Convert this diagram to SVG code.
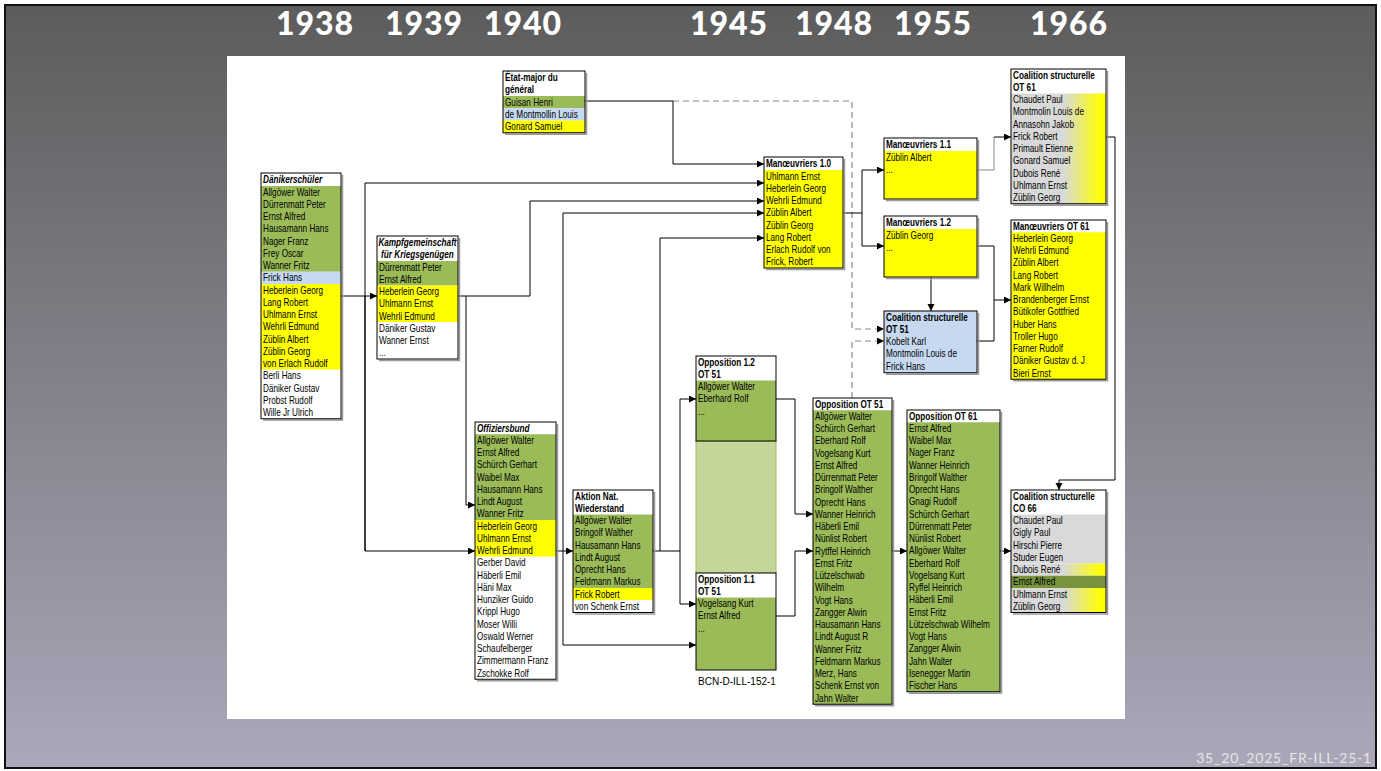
<svg xmlns="http://www.w3.org/2000/svg" width="1381" height="771" viewBox="0 0 1381 771">
<defs>
<linearGradient id="bg" x1="0" y1="0" x2="0" y2="1">
<stop offset="0" stop-color="#5c5c5c"/><stop offset="1" stop-color="#aaa8ba"/>
</linearGradient>
<linearGradient id="gy" x1="0" y1="0" x2="1" y2="0">
<stop offset="0" stop-color="#d9d9d9"/><stop offset="0.55" stop-color="#d9d9d9"/><stop offset="0.95" stop-color="#ffff00"/><stop offset="1" stop-color="#ffff00"/>
</linearGradient>
<marker id="ah" markerUnits="userSpaceOnUse" markerWidth="8" markerHeight="8" refX="7" refY="3.5" orient="auto">
<path d="M0,0 L7,3.5 L0,7 z" fill="#000"/>
</marker>
<style>
.t{font-family:"Liberation Sans",Arial,sans-serif;font-size:10px;fill:#000}
.b{font-weight:bold}
.bi{font-weight:bold;font-style:italic}
.g{fill:#9bbb59}.y{fill:#ffff00}.lb{fill:#c6d9f1}.w{fill:#fff}.gr{fill:#d9d9d9}.gy{fill:url(#gy)}.dg{fill:#77933c}.lg{fill:#c4d79b}
.bx{fill:none;stroke:#000;stroke-width:1}
.sh{fill:none;stroke:#9a9a9a;stroke-width:1.5}
.c{fill:none;stroke:#000;stroke-width:1}
.cg{fill:none;stroke:#8a8a8a;stroke-width:1}
.d{fill:none;stroke:#8a8a8a;stroke-width:1.2;stroke-dasharray:6,4}
.yr{font-family:Lato,"Noto Sans",sans-serif;font-weight:900;font-size:32px;fill:#fff;text-anchor:middle;letter-spacing:1px}
.ft{font-family:Lato,"Noto Sans",sans-serif;font-size:14px;fill:#e6e6e6;text-anchor:end;letter-spacing:0.8px}
.lbl{font-family:"Liberation Sans",Arial,sans-serif;font-size:10px;fill:#000;text-anchor:middle}
</style>
</defs>
<rect x="0" y="0" width="1381" height="771" fill="#fff"/>
<rect x="5" y="5" width="1371" height="763" fill="url(#bg)" stroke="#111" stroke-width="2"/>
<g id="years">
<text class="yr" x="315" y="35">1938</text>
<text class="yr" x="424" y="35">1939</text>
<text class="yr" x="523" y="35">1940</text>
<text class="yr" x="729" y="35">1945</text>
<text class="yr" x="834" y="35">1948</text>
<text class="yr" x="933" y="35">1955</text>
<text class="yr" x="1069" y="35">1966</text>
</g>
<rect x="227" y="56" width="898" height="663" fill="#fff"/>
<text class="ft" x="1372" y="763">35_20_2025_FR-ILL-25-1</text>

<g id="connectors">
<path class="c" d="M341,296 H377" marker-end="url(#ah)"/>
<path class="c" d="M365,551 V183 H764" marker-end="url(#ah)"/>
<path class="c" d="M365,296 V551 H475" marker-end="url(#ah)"/>
<path class="c" d="M458,296 H530 V201 H764" marker-end="url(#ah)"/>
<path class="c" d="M466,296 V505 H475" marker-end="url(#ah)"/>
<path class="c" d="M556,551 H573" marker-end="url(#ah)"/>
<path class="c" d="M563,551 V213 H764" marker-end="url(#ah)"/>
<path class="c" d="M563,551 V645 H696" marker-end="url(#ah)"/>
<path class="c" d="M653,551 H660 V238 H764" marker-end="url(#ah)"/>
<path class="c" d="M660,551 H680 V399 H696" marker-end="url(#ah)"/>
<path class="c" d="M680,551 V604 H696" marker-end="url(#ah)"/>
<path class="d" d="M673,101 H852 V329 H884" marker-end="url(#ah)"/>
<path class="c" d="M585,101 H673 V164 H764" marker-end="url(#ah)"/>
<path class="d" d="M852,398 V341 H884" marker-end="url(#ah)"/>
<path class="c" d="M843,213 H862 V170 H884" marker-end="url(#ah)"/>
<path class="c" d="M862,213 V246 H884" marker-end="url(#ah)"/>
<path class="c" d="M931,277 V311" marker-end="url(#ah)"/>
<path class="cg" d="M977,170 H994 V137"/>
<path class="c" d="M994,137 H1011" marker-end="url(#ah)"/>
<path class="c" d="M977,246 H994 V300 H1011" marker-end="url(#ah)"/>
<path class="c" d="M977,341 H994 V300"/>
<path class="c" d="M1106,137 H1115 V480 H1059 V490" marker-end="url(#ah)"/>
<path class="c" d="M776,399 H795 V514 H813" marker-end="url(#ah)"/>
<path class="c" d="M776,616 H795 V551 H813" marker-end="url(#ah)"/>
<path class="c" d="M892,551 H907" marker-end="url(#ah)"/>
<path class="c" d="M1000,551 H1011" marker-end="url(#ah)"/>
</g>

<g id="daenikerschueler">
<rect class="w" x="261" y="173" width="80" height="13"/>
<rect class="g" x="261" y="186" width="80" height="85.75"/>
<rect class="lb" x="261" y="271.75" width="80" height="12.25"/>
<rect class="y" x="261" y="284" width="80" height="85.75"/>
<rect class="w" x="261" y="369.75" width="80" height="49"/>
<path class="sh" d="M342.5,175 V420 H263"/>
<rect class="bx" x="261" y="173" width="80" height="245.75"/>
<g transform="translate(263 0) scale(0.82 1) translate(-263 0)">
<text class="t bi" x="263" y="183">Dänikerschüler</text>
<text class="t" x="263" y="195.6">Allgöwer Walter</text>
<text class="t" x="263" y="207.9">Dürrenmatt Peter</text>
<text class="t" x="263" y="220.1">Ernst Alfred</text>
<text class="t" x="263" y="232.4">Hausamann Hans</text>
<text class="t" x="263" y="244.6">Nager Franz</text>
<text class="t" x="263" y="256.9">Frey Oscar</text>
<text class="t" x="263" y="269.1">Wanner Fritz</text>
<text class="t" x="263" y="281.4">Frick Hans</text>
<text class="t" x="263" y="293.6">Heberlein Georg</text>
<text class="t" x="263" y="305.9">Lang Robert</text>
<text class="t" x="263" y="318.1">Uhlmann Ernst</text>
<text class="t" x="263" y="330.4">Wehrli Edmund</text>
<text class="t" x="263" y="342.6">Züblin Albert</text>
<text class="t" x="263" y="354.9">Züblin Georg</text>
<text class="t" x="263" y="367.1">von Erlach Rudolf</text>
<text class="t" x="263" y="379.4">Berli Hans</text>
<text class="t" x="263" y="391.6">Däniker Gustav</text>
<text class="t" x="263" y="403.9">Probst Rudolf</text>
<text class="t" x="263" y="416.1">Wille Jr Ulrich</text>
</g>
</g>

<g id="kampfgemeinschaft">
<rect class="w" x="377" y="236" width="81" height="25"/>
<rect class="g" x="377" y="261" width="81" height="24.5"/>
<rect class="y" x="377" y="285.5" width="81" height="36.75"/>
<rect class="w" x="377" y="322.25" width="81" height="36.75"/>
<path class="sh" d="M459.5,238 V360.5 H379"/>
<rect class="bx" x="377" y="236" width="81" height="123"/>
<g transform="translate(417.5 0) scale(0.82 1) translate(-417.5 0)">
<text class="t bi" x="417.5" y="246.5" text-anchor="middle">Kampfgemeinschaft</text>
<text class="t bi" x="417.5" y="258" text-anchor="middle">für Kriegsgenügen</text>
</g>
<g transform="translate(379 0) scale(0.82 1) translate(-379 0)">
<text class="t" x="379" y="270.6">Dürrenmatt Peter</text>
<text class="t" x="379" y="282.9">Ernst Alfred</text>
<text class="t" x="379" y="295.1">Heberlein Georg</text>
<text class="t" x="379" y="307.4">Uhlmann Ernst</text>
<text class="t" x="379" y="319.6">Wehrli Edmund</text>
<text class="t" x="379" y="331.9">Däniker Gustav</text>
<text class="t" x="379" y="344.1">Wanner Ernst</text>
<text class="t" x="379" y="356.4">...</text>
</g>
</g>

<g id="etat-major">
<rect class="w" x="503" y="71" width="82" height="25"/>
<rect class="g" x="503" y="96" width="82" height="12.25"/>
<rect class="lb" x="503" y="108.25" width="82" height="12.25"/>
<rect class="y" x="503" y="120.5" width="82" height="12.25"/>
<path class="sh" d="M586.5,73 V134.25 H505"/>
<rect class="bx" x="503" y="71" width="82" height="61.75"/>
<g transform="translate(505 0) scale(0.82 1) translate(-505 0)">
<text class="t b" x="505" y="81.5">État-major du</text>
<text class="t b" x="505" y="93.5">général</text>
<text class="t" x="505" y="105.6">Guisan Henri</text>
<text class="t" x="505" y="117.9">de Montmollin Louis</text>
<text class="t" x="505" y="130.1">Gonard Samuel</text>
</g>
</g>

<g id="manoeuvriers-1-0">
<rect class="w" x="764" y="157" width="79" height="13"/>
<rect class="y" x="764" y="170" width="79" height="98"/>
<path class="sh" d="M844.5,159 V269.5 H766"/>
<rect class="bx" x="764" y="157" width="79" height="111"/>
<g transform="translate(766 0) scale(0.82 1) translate(-766 0)">
<text class="t b" x="766" y="167">Manœuvriers 1.0</text>
<text class="t" x="766" y="179.6">Uhlmann Ernst</text>
<text class="t" x="766" y="191.9">Heberlein Georg</text>
<text class="t" x="766" y="204.1">Wehrli Edmund</text>
<text class="t" x="766" y="216.4">Züblin Albert</text>
<text class="t" x="766" y="228.6">Züblin Georg</text>
<text class="t" x="766" y="240.9">Lang Robert</text>
<text class="t" x="766" y="253.1">Erlach Rudolf von</text>
<text class="t" x="766" y="265.4">Frick, Robert</text>
</g>
</g>

<g id="manoeuvriers-1-1">
<rect class="w" x="884" y="138" width="93" height="13"/>
<rect class="y" x="884" y="151" width="93" height="48"/>
<path class="sh" d="M978.5,140 V200.5 H886"/>
<rect class="bx" x="884" y="138" width="93" height="61"/>
<g transform="translate(886 0) scale(0.82 1) translate(-886 0)">
<text class="t b" x="886" y="148">Manœuvriers 1.1</text>
<text class="t" x="886" y="160.6">Züblin Albert</text>
<text class="t" x="886" y="172.9">...</text>
</g>
</g>

<g id="manoeuvriers-1-2">
<rect class="w" x="884" y="216" width="93" height="13"/>
<rect class="y" x="884" y="229" width="93" height="48"/>
<path class="sh" d="M978.5,218 V278.5 H886"/>
<rect class="bx" x="884" y="216" width="93" height="61"/>
<g transform="translate(886 0) scale(0.82 1) translate(-886 0)">
<text class="t b" x="886" y="226">Manœuvriers 1.2</text>
<text class="t" x="886" y="238.6">Züblin Georg</text>
<text class="t" x="886" y="250.9">...</text>
</g>
</g>

<g id="coalition-ot-51">
<rect class="lb" x="884" y="311" width="93" height="61.75"/>
<path class="sh" d="M978.5,313 V374.25 H886"/>
<rect class="bx" x="884" y="311" width="93" height="61.75"/>
<g transform="translate(886 0) scale(0.82 1) translate(-886 0)">
<text class="t b" x="886" y="320.6">Coalition structurelle</text>
<text class="t b" x="886" y="332.9">OT 51</text>
<text class="t" x="886" y="345.1">Kobelt Karl</text>
<text class="t" x="886" y="357.4">Montmolin Louis de</text>
<text class="t" x="886" y="369.6">Frick Hans</text>
</g>
</g>

<g id="coalition-ot-61">
<rect class="w" x="1011" y="69" width="95" height="24.5"/>
<rect class="gy" x="1011" y="93.5" width="95" height="110.25"/>
<path class="sh" d="M1107.5,71 V205.25 H1013"/>
<rect class="bx" x="1011" y="69" width="95" height="134.75"/>
<g transform="translate(1013 0) scale(0.82 1) translate(-1013 0)">
<text class="t b" x="1013" y="78.6">Coalition structurelle</text>
<text class="t b" x="1013" y="90.9">OT 61</text>
<text class="t" x="1013" y="103.1">Chaudet Paul</text>
<text class="t" x="1013" y="115.4">Montmolin Louis de</text>
<text class="t" x="1013" y="127.6">Annasohn Jakob</text>
<text class="t" x="1013" y="139.9">Frick Robert</text>
<text class="t" x="1013" y="152.1">Primault Etienne</text>
<text class="t" x="1013" y="164.4">Gonard Samuel</text>
<text class="t" x="1013" y="176.6">Dubois René</text>
<text class="t" x="1013" y="188.9">Uhlmann Ernst</text>
<text class="t" x="1013" y="201.1">Züblin Georg</text>
</g>
</g>

<g id="manoeuvriers-ot-61">
<rect class="w" x="1011" y="220" width="95" height="12.25"/>
<rect class="y" x="1011" y="232.25" width="95" height="147"/>
<path class="sh" d="M1107.5,222 V380.75 H1013"/>
<rect class="bx" x="1011" y="220" width="95" height="159.25"/>
<g transform="translate(1013 0) scale(0.82 1) translate(-1013 0)">
<text class="t b" x="1013" y="229.6">Manœuvriers OT 61</text>
<text class="t" x="1013" y="241.9">Heberlein Georg</text>
<text class="t" x="1013" y="254.1">Wehrli Edmund</text>
<text class="t" x="1013" y="266.4">Züblin Albert</text>
<text class="t" x="1013" y="278.6">Lang Robert</text>
<text class="t" x="1013" y="290.9">Mark Willhelm</text>
<text class="t" x="1013" y="303.1">Brandenberger Ernst</text>
<text class="t" x="1013" y="315.4">Bütikofer Gottfried</text>
<text class="t" x="1013" y="327.6">Huber Hans</text>
<text class="t" x="1013" y="339.9">Troller Hugo</text>
<text class="t" x="1013" y="352.1">Farner Rudolf</text>
<text class="t" x="1013" y="364.4">Däniker Gustav d. J</text>
<text class="t" x="1013" y="376.6">Bieri Ernst</text>
</g>
</g>

<g id="offiziersbund">
<rect class="w" x="475" y="422" width="81" height="12.25"/>
<rect class="g" x="475" y="434.25" width="81" height="85.75"/>
<rect class="y" x="475" y="520" width="81" height="36.75"/>
<rect class="w" x="475" y="556.75" width="81" height="122.5"/>
<path class="sh" d="M557.5,424 V680.75 H477"/>
<rect class="bx" x="475" y="422" width="81" height="257.25"/>
<g transform="translate(477 0) scale(0.82 1) translate(-477 0)">
<text class="t bi" x="477" y="431.6">Offiziersbund</text>
<text class="t" x="477" y="443.9">Allgöwer Walter</text>
<text class="t" x="477" y="456.1">Ernst Alfred</text>
<text class="t" x="477" y="468.4">Schürch Gerhart</text>
<text class="t" x="477" y="480.6">Waibel Max</text>
<text class="t" x="477" y="492.9">Hausamann Hans</text>
<text class="t" x="477" y="505.1">Lindt August</text>
<text class="t" x="477" y="517.4">Wanner Fritz</text>
<text class="t" x="477" y="529.6">Heberlein Georg</text>
<text class="t" x="477" y="541.9">Uhlmann Ernst</text>
<text class="t" x="477" y="554.1">Wehrli Edmund</text>
<text class="t" x="477" y="566.4">Gerber David</text>
<text class="t" x="477" y="578.6">Häberli Emil</text>
<text class="t" x="477" y="590.9">Häni Max</text>
<text class="t" x="477" y="603.1">Hunziker Guido</text>
<text class="t" x="477" y="615.4">Krippl Hugo</text>
<text class="t" x="477" y="627.6">Moser Willi</text>
<text class="t" x="477" y="639.9">Oswald Werner</text>
<text class="t" x="477" y="652.1">Schaufelberger</text>
<text class="t" x="477" y="664.4">Zimmermann Franz</text>
<text class="t" x="477" y="676.6">Zschokke Rolf</text>
</g>
</g>

<g id="aktion-nat">
<rect class="w" x="573" y="490" width="80" height="24.5"/>
<rect class="g" x="573" y="514.5" width="80" height="73.5"/>
<rect class="y" x="573" y="588" width="80" height="12.25"/>
<rect class="w" x="573" y="600.25" width="80" height="12.25"/>
<path class="sh" d="M654.5,492 V614 H575"/>
<rect class="bx" x="573" y="490" width="80" height="122.5"/>
<g transform="translate(575 0) scale(0.82 1) translate(-575 0)">
<text class="t b" x="575" y="499.6">Aktion Nat.</text>
<text class="t b" x="575" y="511.9">Wiederstand</text>
<text class="t" x="575" y="524.1">Allgöwer Walter</text>
<text class="t" x="575" y="536.4">Bringolf Walther</text>
<text class="t" x="575" y="548.6">Hausamann Hans</text>
<text class="t" x="575" y="560.9">Lindt August</text>
<text class="t" x="575" y="573.1">Oprecht Hans</text>
<text class="t" x="575" y="585.4">Feldmann Markus</text>
<text class="t" x="575" y="597.6">Frick Robert</text>
<text class="t" x="575" y="609.9">von Schenk Ernst</text>
</g>
</g>

<g id="opposition-column">
<rect class="lg" x="696" y="441" width="80" height="132" stroke="#9bbb59" stroke-width="1"/>
<text class="lbl" x="737" y="685">BCN-D-ILL-152-1</text>
</g>

<g id="opposition-1-2">
<rect class="w" x="696" y="356" width="80" height="24.5"/>
<rect class="g" x="696" y="380.5" width="80" height="60.5"/>
<rect class="bx" x="696" y="356" width="80" height="85"/>
<g transform="translate(698 0) scale(0.82 1) translate(-698 0)">
<text class="t b" x="698" y="365.6">Opposition  1.2</text>
<text class="t b" x="698" y="377.9">OT 51</text>
<text class="t" x="698" y="390.1">Allgöwer Walter</text>
<text class="t" x="698" y="402.4">Eberhard Rolf</text>
<text class="t" x="698" y="414.6">...</text>
</g>
</g>

<g id="opposition-1-1">
<rect class="w" x="696" y="573" width="80" height="24.5"/>
<rect class="g" x="696" y="597.5" width="80" height="72.5"/>
<rect class="bx" x="696" y="573" width="80" height="97"/>
<g transform="translate(698 0) scale(0.82 1) translate(-698 0)">
<text class="t b" x="698" y="582.6">Opposition 1.1</text>
<text class="t b" x="698" y="594.9">OT 51</text>
<text class="t" x="698" y="607.1">Vogelsang Kurt</text>
<text class="t" x="698" y="619.4">Ernst Alfred</text>
<text class="t" x="698" y="631.6">...</text>
</g>
</g>

<g id="opposition-ot-51">
<rect class="w" x="813" y="398" width="79" height="12.25"/>
<rect class="g" x="813" y="410.25" width="79" height="294"/>
<path class="sh" d="M893.5,400 V705.75 H815"/>
<rect class="bx" x="813" y="398" width="79" height="306.25"/>
<g transform="translate(815 0) scale(0.82 1) translate(-815 0)">
<text class="t b" x="815" y="407.6">Opposition OT 51</text>
<text class="t" x="815" y="419.9">Allgöwer Walter</text>
<text class="t" x="815" y="432.1">Schürch Gerhart</text>
<text class="t" x="815" y="444.4">Eberhard Rolf</text>
<text class="t" x="815" y="456.6">Vogelsang Kurt</text>
<text class="t" x="815" y="468.9">Ernst Alfred</text>
<text class="t" x="815" y="481.1">Dürrenmatt Peter</text>
<text class="t" x="815" y="493.4">Bringolf Walther</text>
<text class="t" x="815" y="505.6">Oprecht Hans</text>
<text class="t" x="815" y="517.9">Wanner Heinrich</text>
<text class="t" x="815" y="530.1">Häberli Emil</text>
<text class="t" x="815" y="542.4">Nünlist Robert</text>
<text class="t" x="815" y="554.6">Rytffel  Heinrich</text>
<text class="t" x="815" y="566.9">Ernst Fritz</text>
<text class="t" x="815" y="579.1">Lützelschwab</text>
<text class="t" x="815" y="591.4">Wilhelm</text>
<text class="t" x="815" y="603.6">Vogt Hans</text>
<text class="t" x="815" y="615.9">Zangger Alwin</text>
<text class="t" x="815" y="628.1">Hausamann Hans</text>
<text class="t" x="815" y="640.4">Lindt August R</text>
<text class="t" x="815" y="652.6">Wanner Fritz</text>
<text class="t" x="815" y="664.9">Feldmann Markus</text>
<text class="t" x="815" y="677.1">Merz, Hans</text>
<text class="t" x="815" y="689.4">Schenk Ernst von</text>
<text class="t" x="815" y="701.6">Jahn Walter</text>
</g>
</g>

<g id="opposition-ot-61">
<rect class="w" x="907" y="410" width="93" height="12.25"/>
<rect class="g" x="907" y="422.25" width="93" height="269.5"/>
<path class="sh" d="M1001.5,412 V693.25 H909"/>
<rect class="bx" x="907" y="410" width="93" height="281.75"/>
<g transform="translate(909 0) scale(0.82 1) translate(-909 0)">
<text class="t b" x="909" y="419.6">Opposition OT 61</text>
<text class="t" x="909" y="431.9">Ernst Alfred</text>
<text class="t" x="909" y="444.1">Waibel Max</text>
<text class="t" x="909" y="456.4">Nager Franz</text>
<text class="t" x="909" y="468.6">Wanner Heinrich</text>
<text class="t" x="909" y="480.9">Bringolf Walther</text>
<text class="t" x="909" y="493.1">Oprecht Hans</text>
<text class="t" x="909" y="505.4">Gnagi Rudolf</text>
<text class="t" x="909" y="517.6">Schürch Gerhart</text>
<text class="t" x="909" y="529.9">Dürrenmatt Peter</text>
<text class="t" x="909" y="542.1">Nünlist Robert</text>
<text class="t" x="909" y="554.4">Allgöwer Walter</text>
<text class="t" x="909" y="566.6">Eberhard Rolf</text>
<text class="t" x="909" y="578.9">Vogelsang Kurt</text>
<text class="t" x="909" y="591.1">Ryffel Heinrich</text>
<text class="t" x="909" y="603.4">Häberli Emil</text>
<text class="t" x="909" y="615.6">Ernst Fritz</text>
<text class="t" x="909" y="627.9">Lützelschwab Wilhelm</text>
<text class="t" x="909" y="640.1">Vogt Hans</text>
<text class="t" x="909" y="652.4">Zangger Alwin</text>
<text class="t" x="909" y="664.6">Jahn Walter</text>
<text class="t" x="909" y="676.9">Isenegger Martin</text>
<text class="t" x="909" y="689.1">Fischer Hans</text>
</g>
</g>

<g id="coalition-co-66">
<rect class="w" x="1011" y="490" width="95" height="24.5"/>
<rect class="gr" x="1011" y="514.5" width="95" height="49"/>
<rect class="gy" x="1011" y="563.5" width="95" height="12.25"/>
<rect class="dg" x="1011" y="575.75" width="95" height="12.25"/>
<rect class="gy" x="1011" y="588" width="95" height="24.5"/>
<path class="sh" d="M1107.5,492 V614 H1013"/>
<rect class="bx" x="1011" y="490" width="95" height="122.5"/>
<g transform="translate(1013 0) scale(0.82 1) translate(-1013 0)">
<text class="t b" x="1013" y="499.6">Coalition structurelle</text>
<text class="t b" x="1013" y="511.9">CO 66</text>
<text class="t" x="1013" y="524.1">Chaudet Paul</text>
<text class="t" x="1013" y="536.4">Gigly Paul</text>
<text class="t" x="1013" y="548.6">Hirschi Pierre</text>
<text class="t" x="1013" y="560.9">Studer Eugen</text>
<text class="t" x="1013" y="573.1">Dubois René</text>
<text class="t" x="1013" y="585.4">Ernst Alfred</text>
<text class="t" x="1013" y="597.6">Uhlmann Ernst</text>
<text class="t" x="1013" y="609.9">Züblin Georg</text>
</g>
</g>
</svg>
